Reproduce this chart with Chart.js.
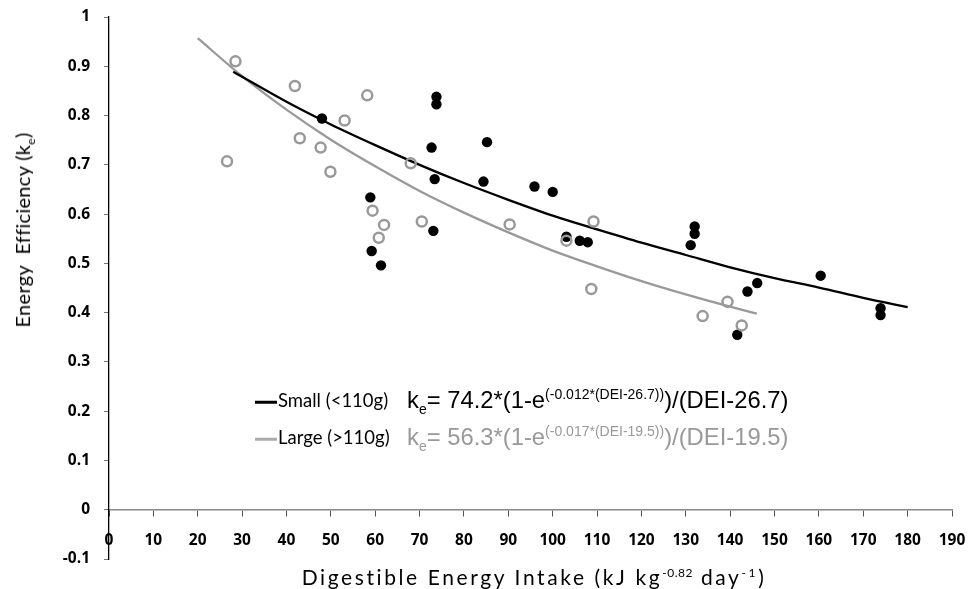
<!DOCTYPE html>
<html>
<head>
<meta charset="utf-8">
<script src="https://cdn.jsdelivr.net/npm/chart.js@4.4.1/dist/chart.umd.min.js"></script>
<style>
    body { margin: 0; background: #fff; }
    #wrap { position: relative; width: 971px; height: 589px; }
    #chart { position: absolute; left: 0; top: 0; }
    .lbl { position: absolute; white-space: nowrap; color: #000; line-height: 1; }
    .cal { font-family: Lato, "Open Sans", sans-serif; }
    .ari { font-family: "Liberation Sans", Arial, sans-serif; }
    sup, sub { line-height: 0; }
</style>
</head>
<body>
<div id="wrap">
    <canvas id="chart" width="971" height="589"></canvas>

    <div class="lbl cal" id="yTitle" style="font-size:20px; letter-spacing:0.3px; left:22px; top:230px; transform: translate(-50%, -50%) rotate(-90deg);">Energy&nbsp; Efficiency (k<sub style="font-size:12px">e</sub>)</div>
    <div class="lbl cal" id="xTitle" style="font-size:21px; letter-spacing:2.6px; left:534px; top:576px; transform: translate(-50%, -50%);">Digestible Energy Intake (kJ kg<sup style="font-size:12px; letter-spacing:0.5px">-0.82</sup> day<sup style="font-size:12px">-1</sup>)</div>

    <div class="lbl cal" style="font-size:18.5px; left:255px; top:400px; transform: translateY(-50%);"><span style="display:inline-block;width:22px;height:2.5px;background:#000;vertical-align:middle;margin-right:1px"></span>Small (&lt;110g)</div>
    <div class="lbl ari" style="font-size:23.8px; left:407px; top:400px; transform: translateY(-50%);">k<sub style="font-size:14px">e</sub>= 74.2*(1-e<sup style="font-size:14px">(-0.012*(DEI-26.7))</sup>)/(DEI-26.7)</div>

    <div class="lbl cal" style="font-size:18.5px; left:255px; top:437px; transform: translateY(-50%);"><span style="display:inline-block;width:22px;height:2.5px;background:#aaa;vertical-align:middle;margin-right:1px"></span>Large (&gt;110g)</div>
    <div class="lbl ari" style="font-size:23.8px; left:407px; top:437px; transform: translateY(-50%); color:#999;">k<sub style="font-size:14px">e</sub>= 56.3*(1-e<sup style="font-size:14px">(-0.017*(DEI-19.5))</sup>)/(DEI-19.5)</div>
</div>

<script>
// Observed points, small animals (<110 g), filled black
const smallDEI = [48.0, 58.9, 59.2, 61.3, 73.8, 73.8, 72.7, 85.2, 73.4, 84.4, 95.9, 100.0, 73.1,
    103.1, 106.1, 107.9, 132.0, 132.0, 131.1, 160.4, 146.1, 143.9, 173.9, 173.9, 141.6];
const smallKe = [0.794, 0.634, 0.525, 0.496, 0.838, 0.823, 0.735, 0.746, 0.671, 0.666, 0.656, 0.645, 0.566,
    0.554, 0.546, 0.543, 0.575, 0.560, 0.537, 0.475, 0.460, 0.443, 0.409, 0.395, 0.355];

// Observed points, large animals (>110 g), open grey circles
const largeDEI = [28.5, 41.9, 58.2, 53.1, 43.0, 47.7, 26.6, 49.9, 59.4, 62.0, 60.8, 68.0, 70.5,
    90.3, 103.1, 109.2, 108.7, 139.4, 133.8, 142.6];
const largeKe = [0.910, 0.860, 0.841, 0.790, 0.754, 0.735, 0.707, 0.686, 0.607, 0.578, 0.552, 0.703, 0.585,
    0.579, 0.546, 0.585, 0.448, 0.422, 0.393, 0.374];

// Fitted curves
const smallFitDEI = [28, 40, 50, 60, 70, 80, 90, 100, 110, 120, 130, 140, 150, 160, 170, 180];
const smallFitKe = [0.889, 0.828, 0.782, 0.740, 0.700, 0.663, 0.629, 0.597, 0.569, 0.542, 0.517, 0.492, 0.470, 0.451, 0.430, 0.411];
const largeFitDEI = [20, 30, 40, 50, 60, 70, 80, 90, 100, 110, 120, 130, 140, 146];
const largeFitKe = [0.957, 0.880, 0.812, 0.751, 0.697, 0.647, 0.603, 0.563, 0.526, 0.494, 0.464, 0.437, 0.412, 0.398];

const toPoints = (xs, ys) => xs.map((x, i) => ({ x: x, y: ys[i] }));

const tickFont = { family: '"Open Sans", Lato, sans-serif', size: 15.5, weight: 'bold' };

new Chart(document.getElementById('chart').getContext('2d'), {
    type: 'scatter',
    data: {
        datasets: [
            {
                label: 'Large (>110g)',
                data: toPoints(largeDEI, largeKe),
                pointRadius: 5,
                pointBorderWidth: 2.5,
                pointBorderColor: '#999',
                pointBackgroundColor: 'rgba(255,255,255,0)'
            },
            {
                label: 'Small (<110g)',
                data: toPoints(smallDEI, smallKe),
                pointRadius: 5.2,
                pointBorderWidth: 0,
                pointBackgroundColor: '#000'
            },
            {
                label: 'Small fit',
                data: toPoints(smallFitDEI, smallFitKe),
                showLine: true,
                pointRadius: 0,
                borderColor: '#000',
                borderWidth: 2.3,
                cubicInterpolationMode: 'monotone'
            },
            {
                label: 'Large fit',
                data: toPoints(largeFitDEI, largeFitKe),
                showLine: true,
                pointRadius: 0,
                borderColor: '#999',
                borderWidth: 2.3,
                cubicInterpolationMode: 'monotone'
            }
        ]
    },
    options: {
        responsive: false,
        animation: false,
        layout: { padding: { top: 17, right: 19, bottom: 30, left: 0 } },
        plugins: { legend: { display: false }, tooltip: { enabled: false } },
        scales: {
            x: {
                type: 'linear',
                position: { y: 0 },
                min: 0,
                max: 190,
                ticks: { stepSize: 10, color: '#000', font: tickFont, padding: 16, maxRotation: 0, autoSkip: false },
                grid: { drawOnChartArea: false, tickLength: 6, color: '#555' },
                border: { color: '#888', width: 1.5 },
                afterFit: scale => {
                    scale.paddingLeft = 0;
                    scale.paddingRight = 0;
                }
            },
            y: {
                min: -0.1,
                max: 1,
                ticks: {
                    stepSize: 0.1,
                    color: '#000',
                    font: tickFont,
                    padding: 14,
                    callback: v => String(Math.round(v * 10) / 10)
                },
                grid: { drawOnChartArea: false, tickLength: 5, color: '#777' },
                border: { color: '#000', width: 1.3 },
                // fixed axis width, and keep the label padding from pushing the plot down
                afterFit: scale => {
                    scale.width = 109;
                    scale.paddingTop = 0;
                    scale.paddingBottom = 0;
                }
            }
        }
    }
});
</script>
</body>
</html>
